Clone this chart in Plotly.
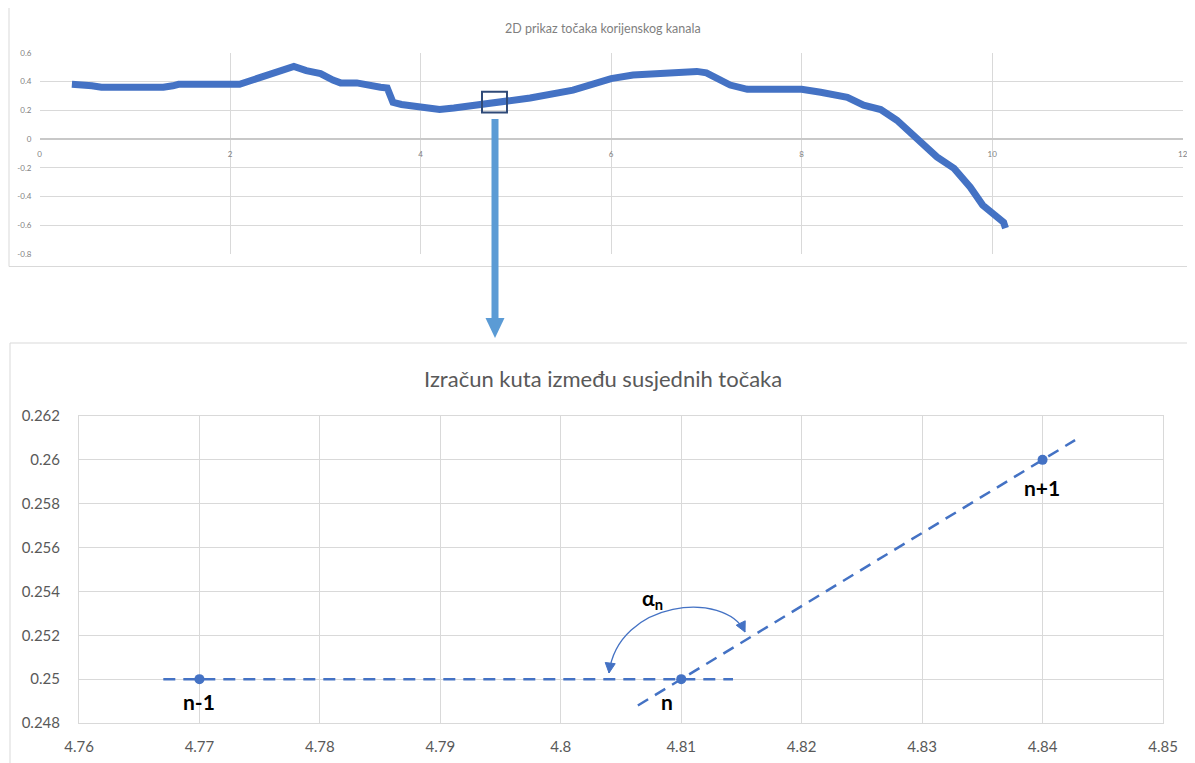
import plotly.graph_objects as go

# ---------------- data ----------------
# Top chart: 2D root-canal points
canal_x = [0.34, 0.50, 0.55, 0.65, 0.95, 1.00, 1.06, 1.30, 1.40, 1.46, 2.10, 2.20, 2.40, 2.55,
           2.67, 2.80, 2.95, 3.08, 3.16, 3.33, 3.43, 3.58, 3.65, 3.68, 3.71, 3.80, 4.00, 4.20,
           4.35, 4.50, 4.76, 5.15, 5.60, 5.80, 6.00, 6.23, 6.55, 6.76, 6.90, 7.00, 7.12, 7.25,
           7.43, 7.78, 7.88, 8.00, 8.20, 8.48, 8.65, 8.72, 8.83, 9.00, 9.25, 9.42, 9.60, 9.77,
           9.90, 10.02, 10.12, 10.14]
canal_y = [0.38, 0.38, 0.37, 0.36, 0.36, 0.348, 0.36, 0.36, 0.37, 0.38, 0.38, 0.40, 0.445, 0.475,
           0.505, 0.475, 0.455, 0.41, 0.39, 0.39, 0.375, 0.36, 0.355, 0.30, 0.255, 0.24, 0.225, 0.205,
           0.215, 0.228, 0.25, 0.285, 0.34, 0.38, 0.42, 0.445, 0.46, 0.475, 0.47, 0.46, 0.42, 0.375,
           0.345, 0.35, 0.355, 0.345, 0.325, 0.29, 0.235, 0.225, 0.205, 0.13, -0.03, -0.125, -0.205, -0.335,
           -0.46, -0.52, -0.58, -0.62]
top_xticks = [0, 2, 4, 6, 8, 10, 12]
top_xtext = ["0", "2", "4", "6", "8", "10", "12"]
top_yticks = [0.6, 0.4, 0.2, 0, -0.2, -0.4, -0.6, -0.8]
top_ytext = ["0.6", "0.4", "0.2", "0", "-0.2", "-0.4", "-0.6", "-0.8"]
zoom_box_x = [4.645, 4.907]
zoom_box_y = [0.184, 0.328]

# Bottom chart: three neighbouring points
pts_x = [4.77, 4.81, 4.84]
pts_y = [0.25, 0.25, 0.26]
pts_labels = ["n-1", "n", "n+1"]
horiz_x = [4.767, 4.8143]
horiz_y = [0.25, 0.25]
diag_x = [4.8064, 4.8427]
diag_y = [0.24880, 0.26090]
bot_xticks = [4.76, 4.77, 4.78, 4.79, 4.80, 4.81, 4.82, 4.83, 4.84, 4.85]
bot_xtext = ["4.76", "4.77", "4.78", "4.79", "4.8", "4.81", "4.82", "4.83", "4.84", "4.85"]
bot_yticks = [0.248, 0.25, 0.252, 0.254, 0.256, 0.258, 0.26, 0.262]
bot_ytext = ["0.248", "0.25", "0.252", "0.254", "0.256", "0.258", "0.26", "0.262"]

BLUE = "#4472C4"
GRID = "#D9D9D9"
FONT = "Lato"

OFF = 8  # page body margin
W, H = 1195 - OFF, 763 - OFF
def px(x):
    return (x - OFF) / W
def py(y):
    return 1 - (y - OFF) / H

fig = go.Figure()

# top curve
fig.add_trace(go.Scatter(x=canal_x, y=canal_y, mode="lines",
                         line=dict(color=BLUE, width=7), xaxis="x", yaxis="y",
                         showlegend=False, hoverinfo="skip"))

# bottom dashed lines
fig.add_trace(go.Scatter(x=horiz_x, y=horiz_y, mode="lines",
                         line=dict(color=BLUE, width=2.5, dash="12px,8px"),
                         xaxis="x2", yaxis="y2", showlegend=False))
fig.add_trace(go.Scatter(x=diag_x, y=diag_y, mode="lines",
                         line=dict(color=BLUE, width=2.5, dash="12px,8px"),
                         xaxis="x2", yaxis="y2", showlegend=False))
fig.add_trace(go.Scatter(x=pts_x, y=pts_y, mode="markers",
                         marker=dict(color=BLUE, size=10),
                         xaxis="x2", yaxis="y2", showlegend=False))

tickfont_top = dict(family=FONT, size=8, color="#7F7F7F")
tickfont_bot = dict(family=FONT, size=15, color="#595959")

fig.update_layout(
    template="none",
    width=W, height=H,
    margin=dict(l=0, r=0, t=0, b=0, autoexpand=False),
    paper_bgcolor="white", plot_bgcolor="white",
    xaxis=dict(domain=[px(39.5), px(1182.7)], range=[0, 12], tickvals=top_xticks,
               ticktext=top_xtext, showgrid=True, gridcolor=GRID, gridwidth=1,
               zeroline=False, showline=False, anchor="free", position=py(138.7),
               ticks="", tickfont=tickfont_top, ticklabelstandoff=9, automargin=False),
    yaxis=dict(domain=[py(254), py(52.7)], range=[-0.8, 0.6], tickvals=top_yticks,
               ticktext=top_ytext, showgrid=True, gridcolor=GRID, gridwidth=1,
               zeroline=True, zerolinecolor="#C8C8C8", zerolinewidth=1.5,
               showline=False, ticks="", tickfont=tickfont_top, anchor="x",
               ticklabelstandoff=7, automargin=False),
    xaxis2=dict(domain=[px(79), px(1163)], range=[4.76, 4.85], tickvals=bot_xticks,
                ticktext=bot_xtext, showgrid=True, gridcolor=GRID, gridwidth=1,
                zeroline=False, showline=True, linecolor=GRID, mirror=True,
                ticks="", tickfont=tickfont_bot, anchor="y2", ticklabelstandoff=10,
                automargin=False),
    yaxis2=dict(domain=[py(723), py(416)], range=[0.248, 0.262], tickvals=bot_yticks,
                ticktext=bot_ytext, showgrid=True, gridcolor=GRID, gridwidth=1,
                zeroline=False, showline=True, linecolor=GRID, mirror=True,
                ticks="", tickfont=tickfont_bot, anchor="x2", ticklabelstandoff=15,
                automargin=False),
)

shapes = []
# outer chart borders
shapes.append(dict(type="rect", xref="paper", yref="paper", x0=px(9), x1=px(1193),
                   y0=py(266.5), y1=py(7.5), line=dict(color=GRID, width=1), layer="below"))
shapes.append(dict(type="rect", xref="paper", yref="paper", x0=px(10), x1=px(1205),
                   y0=py(775), y1=py(343), line=dict(color=GRID, width=1), layer="below"))
# zoom rectangle on top chart
shapes.append(dict(type="rect", xref="x", yref="y", x0=zoom_box_x[0], x1=zoom_box_x[1],
                   y0=zoom_box_y[0], y1=zoom_box_y[1], line=dict(color="#2F4A78", width=2)))
# light blue connecting arrow
shapes.append(dict(type="line", xref="paper", yref="paper", x0=px(495), x1=px(495),
                   y0=py(119), y1=py(319), line=dict(color="#5B9BD5", width=7)))
shapes.append(dict(type="path", xref="paper", yref="paper",
                   path=f"M {px(485.5)},{py(318)} L {px(504.5)},{py(318)} L {px(495)},{py(338)} Z",
                   fillcolor="#5B9BD5", line=dict(color="#5B9BD5", width=0)))

# angle arc (in bottom-chart data coords)
def dx(p):
    return 4.76 + (p - 79) / 120.44 * 0.01
def dy(p):
    return 0.248 + (723 - p) / 21.93 * 0.001
arc = (f"M {dx(609)},{dy(673)} C {dx(618)},{dy(600)} {dx(725)},{dy(590)} {dx(745)},{dy(632)}")
shapes.append(dict(type="path", xref="x2", yref="y2", path=arc,
                   line=dict(color=BLUE, width=1.3)))
# arrowheads of the arc
heads = [[(609, 673), (615.2, 663.7), (605.2, 662.5)],
         [(745, 632), (745.2, 620.8), (736.2, 625.2)]]
for hd in heads:
    p = " L ".join(f"{dx(a)},{dy(b)}" for a, b in hd)
    shapes.append(dict(type="path", xref="x2", yref="y2", path=f"M {p} Z",
                       fillcolor=BLUE, line=dict(color=BLUE, width=1)))
fig.update_layout(shapes=shapes)

ann = []
ann.append(dict(text="2D prikaz točaka korijenskog kanala", xref="paper", yref="paper",
                x=px(603), y=py(28), showarrow=False, xanchor="center", yanchor="middle",
                font=dict(family=FONT, size=12.5, color="#7F7F7F")))
ann.append(dict(text="Izračun kuta između susjednih točaka", xref="paper", yref="paper",
                x=px(603), y=py(378), showarrow=False, xanchor="center", yanchor="middle",
                font=dict(family=FONT, size=22, color="#595959")))
label_pos = [(199, 701), (667, 701), (1042, 487)]
for lab, (lx, ly) in zip(pts_labels, label_pos):
    ann.append(dict(text=f"<b>{lab}</b>", xref="x2", yref="y2", x=dx(lx), y=dy(ly),
                    showarrow=False, xanchor="center", yanchor="middle",
                    font=dict(family=FONT, size=21, color="black")))
ann.append(dict(text="<b>α<sub>n</sub></b>", xref="x2", yref="y2", x=dx(652), y=dy(599),
                showarrow=False, xanchor="center", yanchor="middle",
                font=dict(family=FONT, size=21, color="black")))
fig.update_layout(annotations=ann)

fig.write_html("out.html")
